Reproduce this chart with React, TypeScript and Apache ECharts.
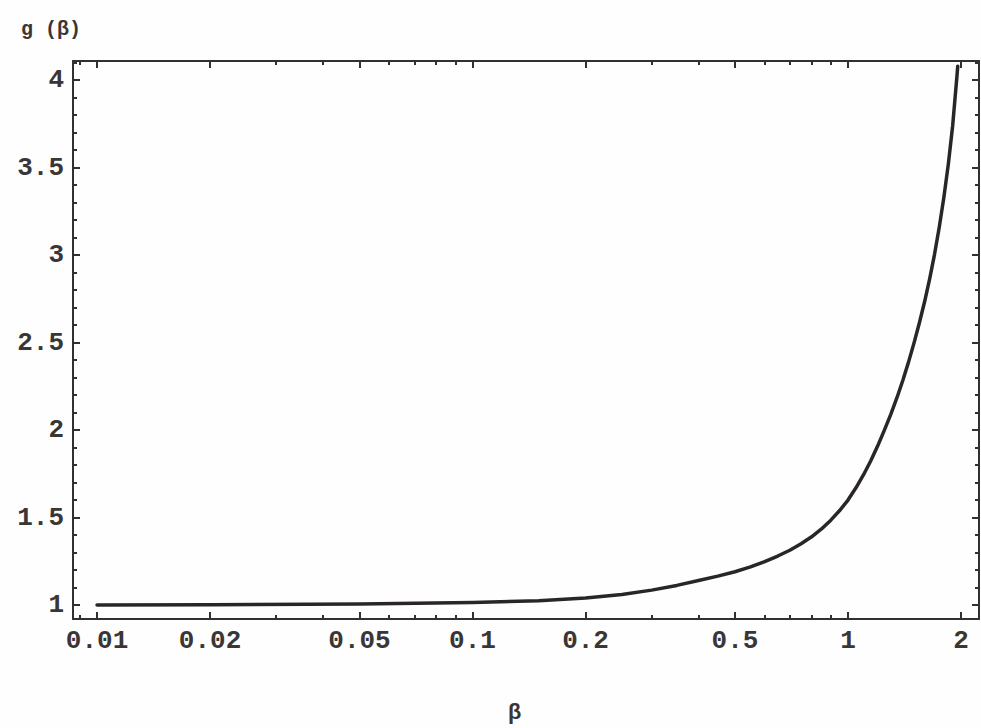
import React, { useEffect, useRef } from "react";
import * as echarts from "echarts";

const betaValues = [0.01, 0.02, 0.05, 0.1, 0.15, 0.2, 0.25, 0.3, 0.35, 0.4, 0.45, 0.5, 0.55, 0.6, 0.65, 0.7, 0.75, 0.8, 0.85, 0.9, 0.95, 1.0, 1.05, 1.1, 1.15, 1.2, 1.25, 1.3, 1.35, 1.4, 1.45, 1.5, 1.55, 1.6, 1.65, 1.7, 1.75, 1.8, 1.85, 1.9, 1.95, 1.96];
const gValues = [1.0, 1.002, 1.006, 1.014, 1.025, 1.04, 1.06, 1.085, 1.112, 1.14, 1.165, 1.19, 1.218, 1.248, 1.28, 1.313, 1.35, 1.39, 1.435, 1.485, 1.54, 1.6, 1.67, 1.745, 1.825, 1.91, 2.0, 2.09, 2.185, 2.285, 2.39, 2.5, 2.615, 2.735, 2.865, 3.005, 3.16, 3.33, 3.52, 3.74, 4.02, 4.08];

const xMajorTicks = [0.01, 0.02, 0.05, 0.1, 0.2, 0.5, 1, 2];
const xMinorTicks = [0.009, 0.03, 0.04, 0.06, 0.07, 0.08, 0.09, 0.3, 0.4, 0.6, 0.7, 0.8, 0.9];
const yMajorTicks = [1, 1.5, 2, 2.5, 3, 3.5, 4];
const yMinorTicks = [1.1, 1.2, 1.3, 1.4, 1.6, 1.7, 1.8, 1.9, 2.1, 2.2, 2.3, 2.4, 2.6, 2.7, 2.8, 2.9, 3.1, 3.2, 3.3, 3.4, 3.6, 3.7, 3.8, 3.9, 4.1];
const xLabels = ["0.01", "0.02", "0.05", "0.1", "0.2", "0.5", "1", "2"];
const yLabels = ["1", "1.5", "2", "2.5", "3", "3.5", "4"];

const X_MIN = 0.00863;
const X_MAX = 2.233;
const Y_MIN = 0.92;
const Y_MAX = 4.11;

const INK = "#333030";
const FONT = "'Liberation Mono', 'DejaVu Sans Mono', monospace";

function labelFor(v: number, ticks: number[], labels: string[]) {
  for (let i = 0; i < ticks.length; i++) {
    if (Math.abs(v - ticks[i]) / ticks[i] < 1e-6) return labels[i];
  }
  return "";
}

export default function App() {
  const ref = useRef<HTMLDivElement>(null);
  useEffect(() => {
    if (!ref.current) return;
    const chart = echarts.init(ref.current, undefined, { renderer: "svg" });
    const xBase = (pos: string) => ({
      type: "log",
      logBase: 10,
      min: X_MIN,
      max: X_MAX,
      position: pos,
      splitLine: { show: false },
      minorTick: { show: false },
      minorSplitLine: { show: false },
    });
    const yBase = (pos: string) => ({
      type: "value",
      min: Y_MIN,
      max: Y_MAX,
      position: pos,
      splitLine: { show: false },
      minorTick: { show: false },
      minorSplitLine: { show: false },
    });
    const lineStyle = { color: INK, width: 2 };
    const labelStyle = {
      fontFamily: FONT,
      fontSize: 26,
      fontWeight: "bold",
      color: "#3a3636",
    };
    chart.setOption({
      animation: false,
      backgroundColor: "#fefefe",
      grid: { left: 73, right: 2, top: 61, bottom: 109, containLabel: false, outerBoundsMode: "none" },
      xAxis: [
        {
          ...xBase("bottom"),
          axisLine: { show: true, lineStyle },
          axisTick: { show: true, inside: true, length: 7, lineStyle, customValues: xMajorTicks },
          axisLabel: {
            show: true,
            customValues: xMajorTicks,
            margin: 9,
            formatter: (v: number) => labelFor(v, xMajorTicks, xLabels),
            ...labelStyle,
          },
        },
        {
          ...xBase("bottom"),
          axisLine: { show: false },
          axisTick: { show: true, inside: true, length: 4, lineStyle, customValues: xMinorTicks },
          axisLabel: { show: false },
        },
        {
          ...xBase("top"),
          axisLine: { show: true, lineStyle },
          axisTick: { show: true, inside: true, length: 7, lineStyle, customValues: xMajorTicks },
          axisLabel: { show: false },
        },
        {
          ...xBase("top"),
          axisLine: { show: false },
          axisTick: { show: true, inside: true, length: 4, lineStyle, customValues: xMinorTicks },
          axisLabel: { show: false },
        },
      ],
      yAxis: [
        {
          ...yBase("left"),
          axisLine: { show: true, lineStyle },
          axisTick: { show: true, inside: true, length: 7, lineStyle, customValues: yMajorTicks },
          axisLabel: {
            show: true,
            customValues: yMajorTicks,
            margin: 9,
            formatter: (v: number) => labelFor(v, yMajorTicks, yLabels),
            ...labelStyle,
          },
        },
        {
          ...yBase("left"),
          axisLine: { show: false },
          axisTick: { show: true, inside: true, length: 4, lineStyle, customValues: yMinorTicks },
          axisLabel: { show: false },
        },
        {
          ...yBase("right"),
          axisLine: { show: true, lineStyle },
          axisTick: { show: true, inside: true, length: 7, lineStyle, customValues: yMajorTicks },
          axisLabel: { show: false },
        },
        {
          ...yBase("right"),
          axisLine: { show: false },
          axisTick: { show: true, inside: true, length: 4, lineStyle, customValues: yMinorTicks },
          axisLabel: { show: false },
        },
      ],
      graphic: [
        {
          type: "text",
          left: 21,
          top: 19,
          style: { text: "g (β)", font: `bold 20px ${FONT}`, fill: "#3a3636" },
        },
        {
          type: "text",
          left: 508,
          top: 702,
          style: { text: "β", font: `bold 22px ${FONT}`, fill: "#3a3636" },
        },
      ],
      series: [
        {
          type: "line",
          xAxisIndex: 0,
          yAxisIndex: 0,
          data: betaValues.map((b, i) => [b, gValues[i]]),
          showSymbol: false,
          smooth: false,
          lineStyle: { color: "#2a2626", width: 3.5, join: "round", cap: "round" },
          silent: true,
        },
      ],
    });
    return () => chart.dispose();
  }, []);
  return (
    <div
      ref={ref}
      style={{ position: "absolute", left: 0, top: 0, width: 981, height: 728 }}
    />
  );
}
